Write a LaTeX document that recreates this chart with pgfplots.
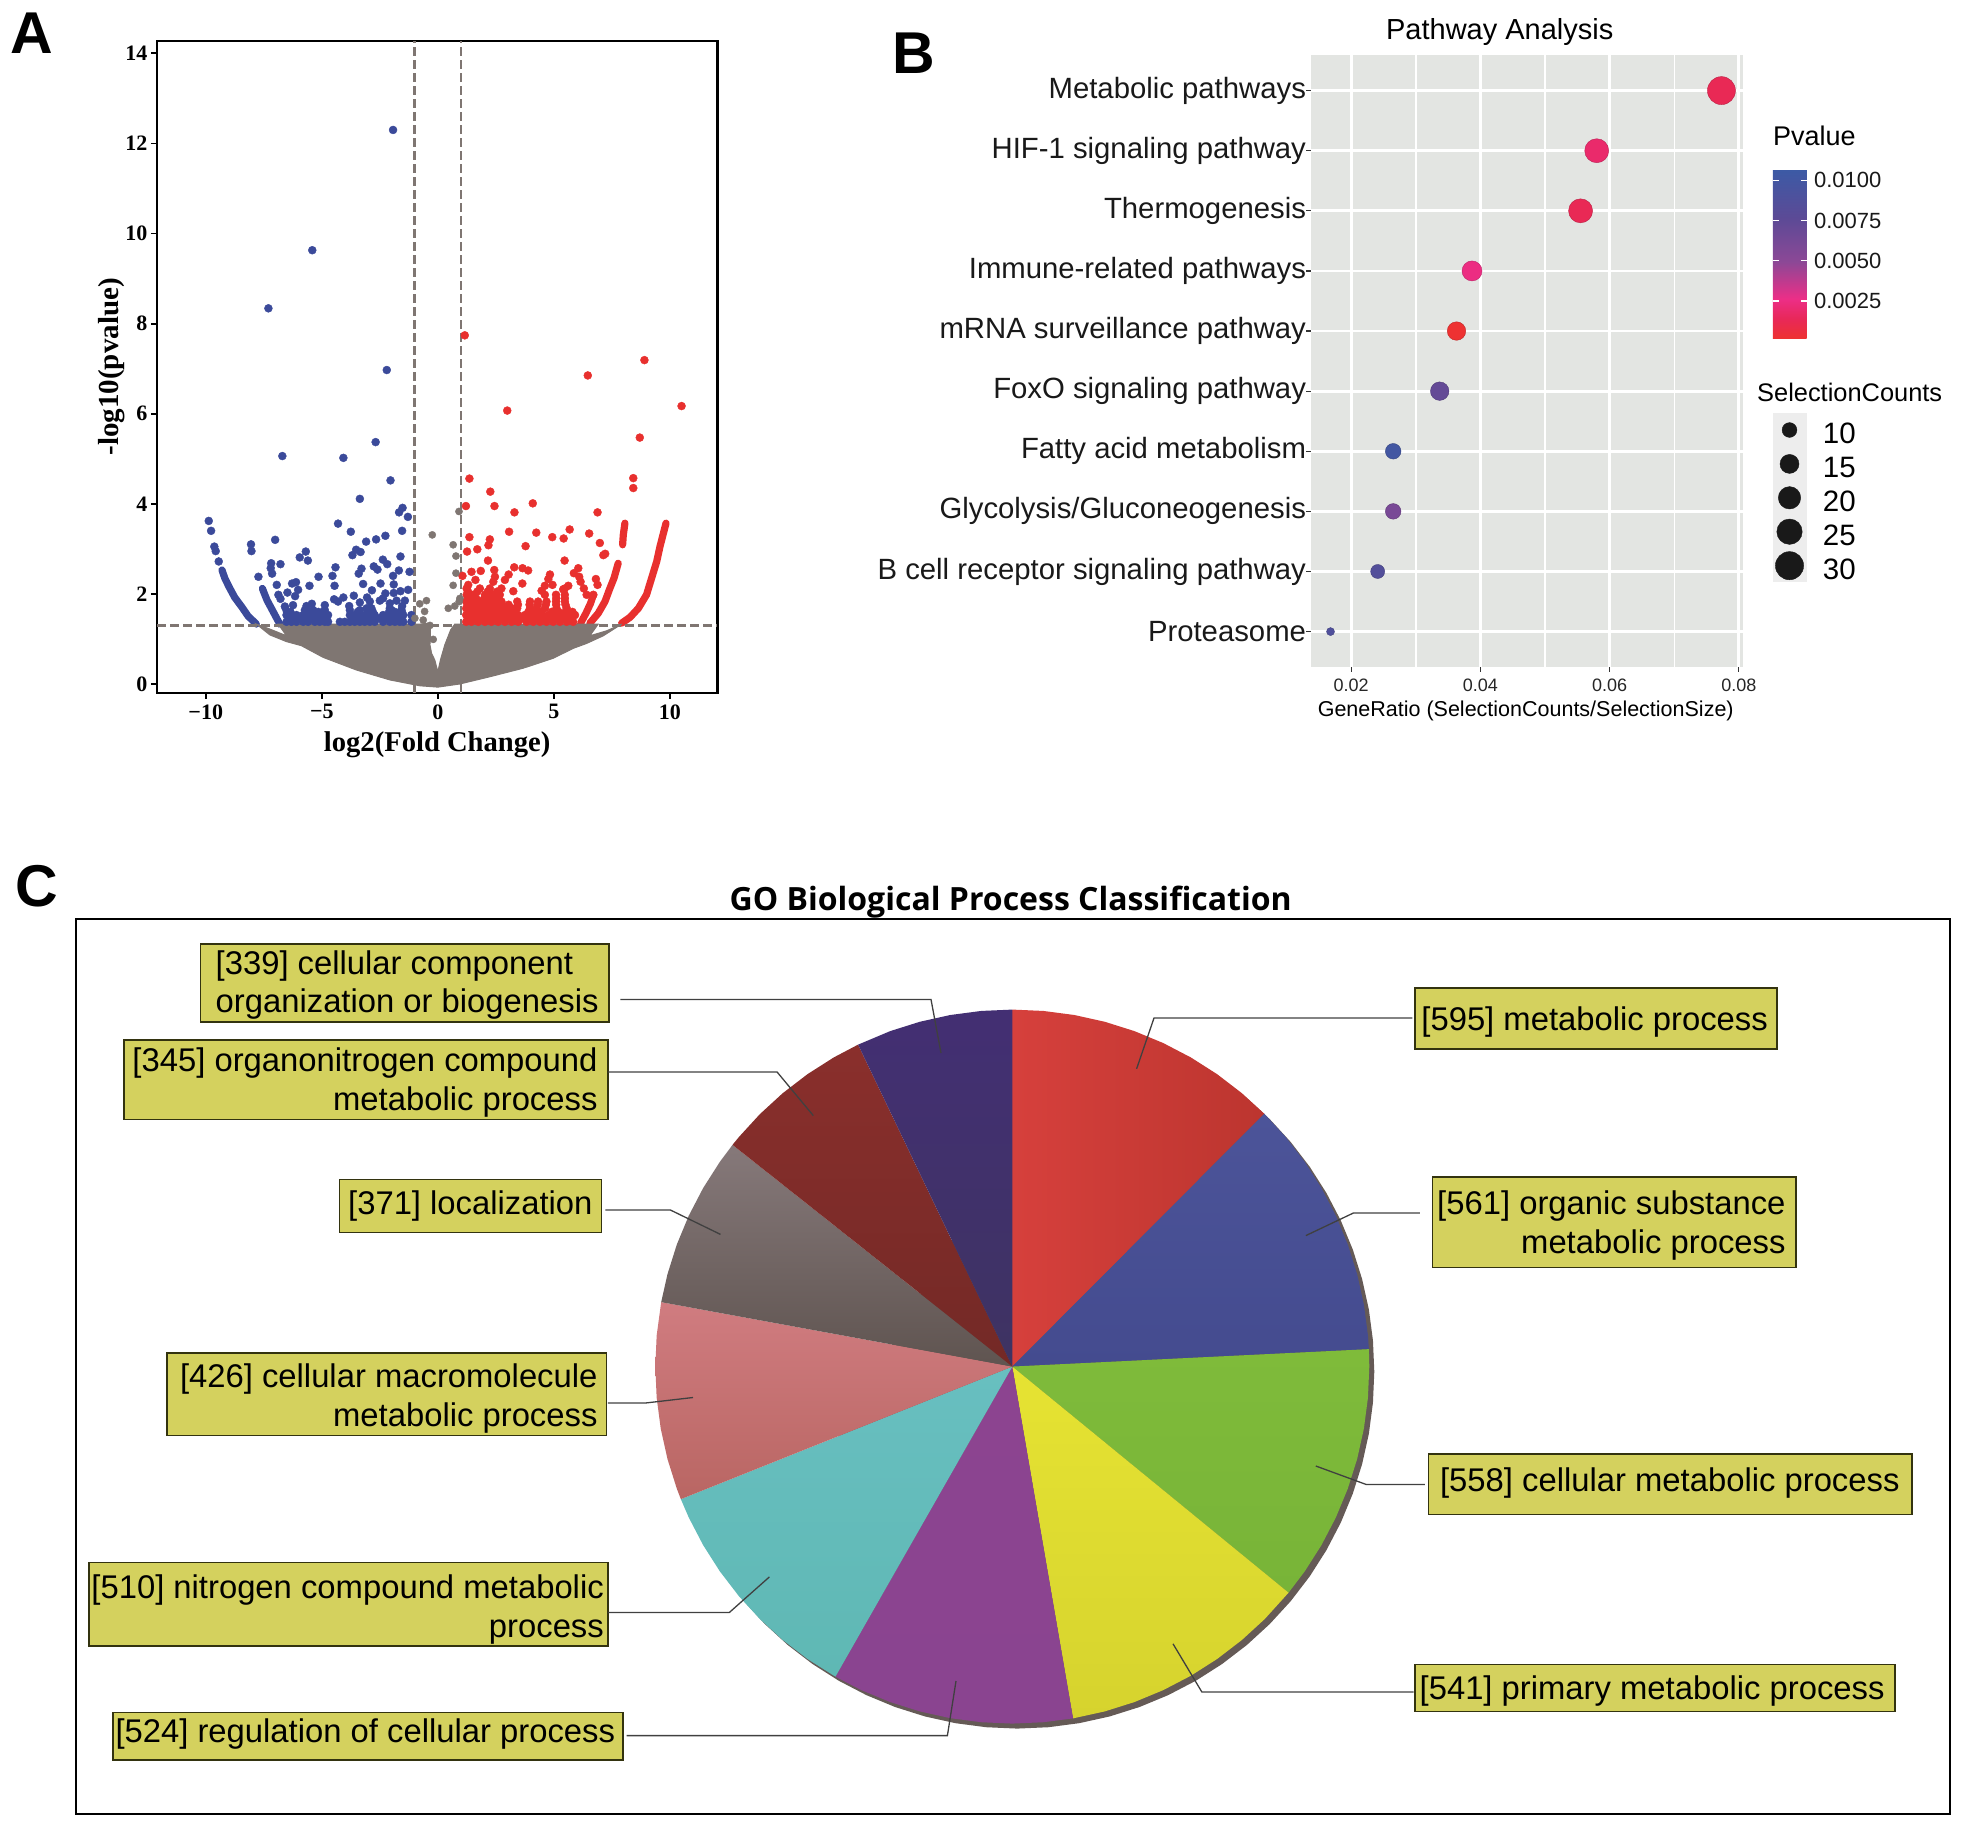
\documentclass[border=0pt]{standalone}
\usepackage{fontspec}
\usepackage{pgfplots}
\pgfplotsset{compat=1.18}
\setmainfont{Liberation Sans}
\newfontfamily\timesfont{Liberation Serif}
\newfontfamily\titlefont{Open Sans}
\newcommand{\fs}[1]{\fontsize{#1}{#1}\selectfont}

\definecolor{volblue}{HTML}{3B4A9A}
\definecolor{volred}{HTML}{E8302E}
\definecolor{volgray}{HTML}{7F7672}
\definecolor{panelbg}{HTML}{E3E5E2}
\definecolor{boxfill}{HTML}{D4D15E}
\definecolor{boxline}{HTML}{33330F}
\definecolor{pieshadow}{HTML}{655A56}
\definecolor{redA}{HTML}{D6403C}\definecolor{redM}{HTML}{C63832}\definecolor{redB}{HTML}{BC352F}
\definecolor{bluA}{HTML}{4C5499}\definecolor{bluB}{HTML}{444B8F}
\definecolor{greA}{HTML}{7FBB3A}\definecolor{greB}{HTML}{78B438}
\definecolor{yelA}{HTML}{E6E332}\definecolor{yelB}{HTML}{D6D32E}
\definecolor{purA}{HTML}{8C4490}\definecolor{purB}{HTML}{8A4490}
\definecolor{teaA}{HTML}{68BFC0}\definecolor{teaB}{HTML}{5FB8B4}
\definecolor{pinA}{HTML}{D07C80}\definecolor{pinB}{HTML}{B96663}
\definecolor{graA}{HTML}{86797A}\definecolor{graB}{HTML}{5F5450}
\definecolor{draA}{HTML}{8A2F2C}\definecolor{draB}{HTML}{732926}
\definecolor{navA}{HTML}{432F73}\definecolor{navB}{HTML}{3E3362}

\pgfplotsset{
	colormap={pval}{rgb255(0cm)=(238,50,48); rgb255(13cm)=(232,40,90); rgb255(25cm)=(236,46,135); rgb255(48cm)=(140,72,150); rgb255(75cm)=(92,74,150); rgb255(105cm)=(60,90,165)},
}

% one yellow label box of panel C, corners in picture pixels
\newcommand{\gobox}[4]{\addplot[fill=boxfill, draw=boxline, line width=1.6pt] coordinates {(#1,#2) (#3,#2) (#3,#4) (#1,#4)} -- cycle;}
\newcommand{\leader}[1]{\addplot[black!75, line width=1.3pt] coordinates {#1};}
\newcommand{\sizedot}[2]{\addplot[only marks, mark=*, mark size=#2pt, black!90, mark options={draw=none}] coordinates {(1789.5,#1)};}
\tikzset{golabel/.style={anchor=east, inner sep=0pt, text height=25pt, text depth=4.5pt, font=\fs{32.8}}}

\begin{document}
\begin{tikzpicture}
\path[use as bounding box] (0,0) rectangle (1965pt,1830pt);

% ---------- A: volcano ----------
\begin{axis}[
	at={(157pt,1137pt)}, anchor=south west,
	scale only axis, width=560.3pt, height=652.2pt,
	xmin=-12.1, xmax=12.04, ymin=-0.2, ymax=14.28,
	xtick={-10,-5,0,5,10}, xticklabels={−10,−5,0,5,10},
	ytick={0,2,4,6,8,10,12,14},
	yticklabels={0,2,4,6,8,10,12,14},
	xtick pos=bottom, ytick pos=left,
	tick align=outside, major tick length=6pt,
	axis line style={line width=2.4pt}, tick style={line width=1.8pt, black},
	ticklabel style={font=\timesfont\bfseries\fs{22}},
	xticklabel style={yshift=-2pt},
	xlabel={log2(Fold Change)}, ylabel={-log10(pvalue)},
	xlabel style={font=\timesfont\bfseries\fs{28.6}, yshift=-5pt},
	ylabel style={font=\timesfont\bfseries\fs{29}, yshift=-6pt},
	clip=false,
]
% blue points
\addplot[only marks, mark=*, mark size=4pt, volblue, mark options={draw=none}] coordinates {
(-1.93,12.30) (-5.41,9.63) (-7.30,8.34) (-2.20,6.97) (-2.68,5.37) (-6.70,5.06) (-4.07,5.02) (-2.04,4.52) (-3.36,4.11)
(-1.52,3.91) (-1.67,3.81) (-1.29,3.71) (-9.87,3.62) (-9.77,3.40) (-4.30,3.56) (-3.75,3.38) (-1.54,3.40) (-2.26,3.29)
(-2.66,3.21) (-3.09,3.16) (-7.01,3.20) (-8.05,3.10) (-8.03,2.95) (-9.63,3.05) (-9.57,2.95) (-9.44,2.72) (-5.69,2.94)
(-5.95,2.81) (-5.60,2.74) (-3.52,2.98) (-3.33,2.93) (-3.68,2.86) (-1.61,2.83) (-2.37,2.76) (-2.18,2.66) (-2.76,2.61)
(-2.60,2.54) (-3.29,2.56) (-3.41,2.45) (-4.41,2.59) (-4.54,2.40) (-7.18,2.68) (-7.20,2.57) (-7.14,2.45) (-6.78,2.66)
(-7.73,2.38) (-5.14,2.38) (-1.68,2.52) (-1.93,2.40) (-1.22,2.49) (-6.11,2.26) (-6.28,2.23) (-6.94,2.20) (-5.53,2.18)
(-4.45,2.18) (-3.22,2.22) (-2.47,2.23) (-1.90,2.21) (-2.84,2.08) (-1.28,2.09) (-1.61,2.06) (-1.90,2.02) (-2.26,2.01)
(-6.02,2.09) (-6.48,2.03) (-6.15,1.95) (-6.87,1.98) (-6.78,1.89) (-3.62,1.96) (-3.05,1.92) (-4.07,1.92) (-4.47,1.88)
(-2.36,1.90) (-2.50,1.85) (-1.42,1.85) (-1.78,1.85) (-3.36,1.81) (-2.93,1.83) (-4.30,1.83) (-2.07,1.79) (-1.54,1.73)
(-5.43,1.78) (-5.66,1.73) (-4.87,1.75) (-3.82,1.73) (-6.59,1.72) (-2.07,1.68) (-3.07,1.68) (-2.86,1.68) (-6.24,1.75)
(-5.73,1.64) (-5.37,1.64) (-4.87,1.64) (-3.79,1.64) (-3.36,1.64) (-2.93,1.64) (-2.00,1.64) (-1.57,1.64)
(-6.35,1.60) (-5.55,1.60) (-5.15,1.60) (-4.95,1.60) (-3.45,1.60) (-3.00,1.60) (-2.80,1.60) (-2.10,1.60) (-1.85,1.60) (-1.55,1.60)
(-6.52,1.53) (-6.31,1.53) (-6.09,1.53) (-5.80,1.53) (-5.59,1.53) (-5.30,1.53) (-5.09,1.53) (-4.87,1.53) (-4.73,1.53)
(-3.79,1.53) (-3.58,1.53) (-3.36,1.53) (-3.15,1.53) (-2.93,1.53) (-2.72,1.53) (-2.36,1.53) (-2.07,1.53) (-1.85,1.53) (-1.64,1.53) (-1.49,1.53) (-1.14,1.53)
(-6.40,1.46) (-6.20,1.46) (-5.95,1.46) (-5.70,1.46) (-5.45,1.46) (-5.20,1.46) (-4.98,1.46) (-4.80,1.46) (-3.70,1.46) (-3.47,1.46) (-3.25,1.46) (-3.04,1.46) (-2.82,1.46) (-2.50,1.46) (-2.20,1.46) (-1.95,1.46) (-1.75,1.46) (-1.57,1.46)
(-6.52,1.38) (-6.31,1.38) (-6.09,1.38) (-5.80,1.38) (-5.59,1.38) (-5.30,1.38) (-5.09,1.38) (-4.87,1.38) (-4.73,1.38)
(-4.22,1.38) (-4.01,1.38) (-3.79,1.38) (-3.58,1.38) (-3.36,1.38) (-3.15,1.38) (-2.93,1.38) (-2.72,1.38) (-2.36,1.38) (-2.07,1.38) (-1.85,1.38) (-1.64,1.38) (-1.49,1.38) (-1.14,1.38)
};
\addplot[volblue, line width=7.2pt, line cap=round, line join=round] coordinates {(-9.30,2.53) (-9.18,2.35) (-8.99,2.15) (-8.75,1.92) (-8.46,1.72) (-8.18,1.51) (-7.82,1.33)};
\addplot[volblue, line width=7.2pt, line cap=round, line join=round] coordinates {(-7.56,2.12) (-7.36,1.86) (-7.10,1.61) (-6.81,1.33)};
\addplot[volblue, line width=7.2pt, line cap=round, line join=round] coordinates {(-6.59,1.72) (-6.45,1.49) (-6.31,1.33)};
% red points
\addplot[only marks, mark=*, mark size=4pt, volred, mark options={draw=none}] coordinates {
(1.16,7.74) (8.90,7.19) (6.46,6.85) (2.99,6.07) (10.50,6.17) (8.70,5.47) (8.42,4.57) (8.42,4.35) (1.36,4.56) (2.26,4.27)
(4.09,4.01) (1.21,3.95) (2.44,3.95) (3.30,3.81) (6.88,3.81) (1.36,3.26) (3.07,3.38) (4.24,3.36) (4.93,3.26) (5.42,3.23)
(5.68,3.43) (6.52,3.34) (6.98,3.13) (2.24,3.21) (2.18,3.08) (3.78,3.06) (1.70,2.99) (1.26,2.94) (7.21,2.89) (7.13,2.86)
(5.46,2.74) (2.16,2.74) (1.45,2.49) (1.85,2.51) (2.43,2.53) (3.29,2.59) (3.65,2.57) (3.89,2.52) (6.05,2.57) (5.86,2.46)
(6.09,2.38) (6.15,2.27) (4.83,2.43) (4.76,2.33) (4.94,2.20) (1.06,2.40) (3.05,2.43) (2.89,2.31) (2.46,2.38) (2.39,2.27)
(3.64,2.23) (3.25,2.06) (1.62,2.31) (1.31,2.20) (4.61,2.18) (4.47,2.07) (5.62,2.18) (5.40,2.10) (6.29,2.12) (6.41,1.98) (6.70,1.98)
(6.81,2.33) (6.88,2.20)
(1.24,2.12) (1.81,2.12) (2.24,2.12) (2.74,2.12) (5.47,2.12)
(1.30,2.05) (1.70,2.05) (2.15,2.05) (2.55,2.05)
(1.24,1.98) (1.52,1.98) (2.03,1.98) (2.39,1.98) (2.67,1.98) (4.61,1.98) (5.09,1.98) (5.47,1.98)
(1.33,1.90) (1.65,1.90) (2.00,1.90) (2.30,1.90) (2.60,1.90) (5.10,1.90) (5.47,1.90)
(1.22,1.83) (1.45,1.83) (1.81,1.83) (2.17,1.83) (2.46,1.83) (2.74,1.83) (3.42,1.83) (3.97,1.83) (4.32,1.83) (4.68,1.83) (5.09,1.83) (5.47,1.83)
(1.33,1.76) (1.60,1.76) (1.90,1.76) (2.17,1.76) (2.45,1.76) (2.75,1.76) (3.05,1.76) (3.45,1.76) (3.95,1.76) (4.30,1.76) (4.65,1.76) (5.10,1.76) (5.50,1.76)
(1.22,1.68) (1.45,1.68) (1.74,1.68) (2.03,1.68) (2.31,1.68) (2.60,1.68) (2.89,1.68) (3.18,1.68) (3.42,1.68) (3.97,1.68) (4.25,1.68) (4.61,1.68) (5.11,1.68) (5.55,1.68)
(1.33,1.60) (1.60,1.60) (1.88,1.60) (2.17,1.60) (2.45,1.60) (2.75,1.60) (3.03,1.60) (3.30,1.60) (3.90,1.60) (4.12,1.60) (4.45,1.60) (4.90,1.60) (5.20,1.60) (5.50,1.60) (5.80,1.60)
(1.22,1.53) (1.45,1.53) (1.74,1.53) (2.03,1.53) (2.31,1.53) (2.60,1.53) (2.89,1.53) (3.18,1.53) (3.46,1.53) (3.75,1.53) (4.18,1.53) (4.47,1.53) (4.76,1.53) (5.04,1.53) (5.33,1.53) (5.62,1.53) (5.91,1.53)
(1.33,1.45) (1.60,1.45) (1.88,1.45) (2.17,1.45) (2.45,1.45) (2.75,1.45) (3.03,1.45) (3.32,1.45) (3.60,1.45) (3.95,1.45) (4.25,1.45) (4.55,1.45) (4.82,1.45) (5.12,1.45) (5.40,1.45) (5.70,1.45)
(1.22,1.38) (1.45,1.38) (1.74,1.38) (2.03,1.38) (2.31,1.38) (2.60,1.38) (2.89,1.38) (3.18,1.38) (3.46,1.38) (3.82,1.38) (4.11,1.38) (4.40,1.38) (4.68,1.38) (4.97,1.38) (5.26,1.38) (5.55,1.38) (5.83,1.38)
};
\addplot[volred, line width=7.2pt, line cap=round, line join=round] coordinates {(7.92,1.35) (8.28,1.48) (8.64,1.68) (8.99,1.98) (9.21,2.35) (9.43,2.72) (9.57,3.05) (9.68,3.27) (9.83,3.57)};
\addplot[volred, line width=7.2pt, line cap=round, line join=round] coordinates {(6.55,1.35) (6.91,1.57) (7.20,1.83) (7.41,2.12) (7.59,2.35) (7.77,2.68)};
\addplot[volred, line width=7.2pt, line cap=round, line join=round] coordinates {(7.96,3.09) (7.99,3.31) (8.06,3.57)};
\addplot[volred, line width=7.2pt, line cap=round, line join=round] coordinates {(6.15,1.35) (6.38,1.57) (6.58,1.79) (6.70,1.98)};
% grey mass under the cut-off
\addplot[fill=volgray, draw=volgray, line width=1pt] coordinates {
(-7.82,1.33) (-7.24,1.22) (-6.52,1.07) (-6.88,1.33) (-0.78,1.33) (-0.32,1.35) (-0.32,1.09) (-0.34,0.87) (-0.27,0.68) (-0.13,0.53)
(0,0.27) (0.11,0.53) (0.30,0.87) (0.55,1.20) (0.73,1.33) (6.91,1.33) (6.55,1.07) (7.27,1.18) (7.92,1.33)
(7.13,1.07) (6.41,0.90) (5.83,0.79) (4.97,0.57) (3.68,0.35) (2.24,0.16) (0.95,0) (0,-0.07)
(-0.78,-0.04) (-2.07,0.09) (-3.51,0.31) (-4.94,0.59) (-5.88,0.85) (-6.52,0.94) (-7.24,1.09)
} -- cycle;
\addplot[only marks, mark=*, mark size=3.6pt, volgray, mark options={draw=none}] coordinates {
(-0.24,3.31) (-0.78,1.78) (-0.49,1.85) (-0.57,1.61) (-0.99,1.46) (-0.63,1.42) (0.91,3.83) (0.66,3.09) (0.78,2.84) (0.78,2.46)
(0.66,2.19) (0.45,1.68) (0.73,1.73) (0.92,1.83) (0.95,1.90) (-0.20,0.99) (-0.34,1.30)
};
% cut-offs
\addplot[volgray, line width=2.6pt, dash pattern=on 9pt off 4pt] coordinates {(-12.1,1.3) (12.04,1.3)};
\addplot[volgray, line width=2.6pt, dash pattern=on 9pt off 4pt] coordinates {(-1,-0.2) (-1,14.28)};
\addplot[volgray, line width=2.6pt, dash pattern=on 9pt off 4pt] coordinates {(1,-0.2) (1,14.28)};
\end{axis}

% ---------- B: pathway dot plot ----------
\begin{axis}[
	at={(1311pt,1163pt)}, anchor=south west,
	scale only axis, width=431.5pt, height=612.2pt,
	xmin=0.01378, xmax=0.08056, ymin=-0.596, ymax=9.589, y dir=reverse,
	axis background/.style={fill=panelbg},
	axis line style={draw=none},
	xtick={0.02,0.04,0.06,0.08}, minor xtick={0.03,0.05,0.07},
	scaled x ticks=false,
	ytick={0,...,9},
	yticklabels={Metabolic pathways, HIF-1 signaling pathway, Thermogenesis, Immune-related pathways, mRNA surveillance pathway, FoxO signaling pathway, Fatty acid metabolism, Glycolysis/Gluconeogenesis~, B cell receptor signaling pathway, Proteasome},
	xtick pos=bottom, ytick pos=left,
	tick align=outside, major tick length=5pt, minor tick length=0pt,
	tick style={line width=1.2pt, black!80},
	grid=major, xminorgrids=true,
	major grid style={white, line width=2.8pt},
	minor grid style={white, line width=1.4pt},
	yticklabel style={font=\fs{29.3}, black!90, xshift=3.5pt},
	xticklabel style={font=\fs{18}, black!85, yshift=-3pt, /pgf/number format/fixed, /pgf/number format/fixed zerofill, /pgf/number format/precision=2, /pgf/number format/assume math mode=true},
	xlabel={GeneRatio (SelectionCounts/SelectionSize)},
	xlabel style={font=\fs{21.5}, xshift=-1pt, yshift=-3pt},
	title={Pathway Analysis}, title style={font=\fs{29}, xshift=-27pt, yshift=0pt},
	colormap name=pval,
	point meta min=0.00014, point meta max=0.01064,
	colorbar,
	colorbar/width=33.7pt,
	colorbar style={
		at={(parent axis.north east)}, anchor=north west, xshift=21.8pt, yshift=-115.2pt,
		height=169pt,
		axis line style={draw=none},
		ytick={0.0025,0.005,0.0075,0.01},
		scaled y ticks=false,
		ytick pos=both, yticklabel pos=right,
		tick align=inside, major tick length=6pt,
		tick style={white, line width=1.2pt},
		yticklabel style={font=\fs{22}, black!90, /pgf/number format/fixed, /pgf/number format/fixed zerofill, /pgf/number format/precision=4, /pgf/number format/assume math mode=true},
		tick label style={xshift=4pt},
	},
	clip=false,
]
\addplot[scatter, only marks, mark=*, scatter src=explicit,
	visualization depends on={\thisrow{d}/2 \as \perpointsize},
	scatter/@pre marker code/.append style={/tikz/mark size=\perpointsize},
] table[x=r, y=n, meta=p] {
r n p d
0.0773 0 0.0013 28
0.0580 1 0.0019 24
0.0555 2 0.0013 24
0.0387 3 0.0025 20
0.0363 4 0.0002 18.5
0.0337 5 0.0072 18.5
0.0265 6 0.0100 15.6
0.0265 7 0.0060 15.6
0.0241 8 0.0085 14
0.0168 9 0.0088 8
};
\end{axis}

% ---------- C: pie, angles from the gene counts ----------
\begin{axis}[
	at={(660.3pt,101.4pt)}, anchor=south west,
	scale only axis, width=714pt, height=714pt,
	xmin=-357, xmax=357, ymin=-357, ymax=357, hide axis, clip=false, data cs=polar,
]
\addplot[fill=pieshadow, draw=none] coordinates {(80,357) (75,357) (70,357) (65,357) (60,357) (55,357) (50,357) (45,357) (40,357) (35,357) (30,357) (25,357) (20,357) (15,357) (10,357) (5,357) (0,357) (-5,357) (-10,357) (-15,357) (-20,357) (-25,357) (-30,357) (-35,357) (-40,357) (-45,357) (-50,357) (-55,357) (-60,357) (-65,357) (-70,357) (-75,357) (-80,357) (-85,357) (-90,357) (-95,357) (-100,357) (-105,357) (-110,357) (-115,357) (-120,357) (-125,357) (-130,357) (-135,357) (-140,357)} -- cycle;
\end{axis}
\begin{axis}[
	at={(655.3pt,106.4pt)}, anchor=south west,
	scale only axis, width=714pt, height=714pt,
	xmin=-357, xmax=357, ymin=-357, ymax=357, hide axis, clip=false, data cs=polar,
]
\addplot[left color=redA, middle color=redM, right color=redB, draw=none] coordinates {(0,0) (90,357) (85,357) (80,357) (75,357) (70,357) (65,357) (60,357) (55,357) (50,357) (45.1,357)} -- cycle;
\addplot[top color=bluA, bottom color=bluB, draw=none] coordinates {(0,0) (45.1,357) (40,357) (35,357) (30,357) (25,357) (20,357) (15,357) (10,357) (5,357) (2.8,357)} -- cycle;
\addplot[top color=greA, bottom color=greB, draw=none] coordinates {(0,0) (2.8,357) (0,357) (-5,357) (-10,357) (-15,357) (-20,357) (-25,357) (-30,357) (-35,357) (-39.3,357)} -- cycle;
\addplot[top color=yelA, bottom color=yelB, draw=none] coordinates {(0,0) (-39.3,357) (-45,357) (-50,357) (-55,357) (-60,357) (-65,357) (-70,357) (-75,357) (-80.2,357)} -- cycle;
\addplot[top color=purA, bottom color=purB, draw=none] coordinates {(0,0) (-80.2,357) (-85,357) (-90,357) (-95,357) (-100,357) (-105,357) (-110,357) (-115,357) (-119.7,357)} -- cycle;
\addplot[top color=teaA, bottom color=teaB, draw=none] coordinates {(0,0) (-119.7,357) (-125,357) (-130,357) (-135,357) (-140,357) (-145,357) (-150,357) (-155,357) (-158.2,357)} -- cycle;
\addplot[top color=pinA, bottom color=pinB, draw=none] coordinates {(0,0) (-158.2,357) (-160,357) (-165,357) (-170,357) (-175,357) (-180,357) (-185,357) (-190.4,357)} -- cycle;
\addplot[top color=graA, bottom color=graB, draw=none] coordinates {(0,0) (-190.4,357) (-195,357) (-200,357) (-205,357) (-210,357) (-215,357) (-218.4,357)} -- cycle;
\addplot[top color=draA, bottom color=draB, draw=none] coordinates {(0,0) (-218.4,357) (-220,357) (-225,357) (-230,357) (-235,357) (-240,357) (-244.4,357)} -- cycle;
\addplot[top color=navA, bottom color=navB, draw=none] coordinates {(0,0) (-244.4,357) (-250,357) (-255,357) (-260,357) (-265,357) (-270,357)} -- cycle;
\end{axis}

% ---------- labels, frame and legend of size, in picture pixels ----------
\begin{axis}[
	at={(0,0)}, anchor=south west,
	scale only axis, width=1965pt, height=1830pt,
	xmin=0, xmax=1965, ymin=0, ymax=1830, y dir=reverse,
	hide axis, clip=false,
]
\addplot[black, line width=2pt] coordinates {(76.4,919.4) (1950,919.4) (1950,1814) (76.4,1814)} -- cycle;
\gobox{200.5}{943.8}{609}{1021.9}
\gobox{124}{1040}{607.8}{1119.4}
\gobox{339.6}{1179.4}{601.5}{1232.5}
\gobox{166.7}{1353}{606.5}{1435.6}
\gobox{89}{1562.5}{607.8}{1646}
\gobox{112.8}{1712.5}{622.8}{1760}
\gobox{1414.8}{988}{1777}{1048.8}
\gobox{1432.3}{1176.9}{1795.7}{1267.5}
\gobox{1428.6}{1453.8}{1912}{1514.4}
\gobox{1414.8}{1664.4}{1894.7}{1711.3}
\leader{(620.3,999.4) (931,999.4) (941,1053)}
\leader{(607.8,1071.9) (777,1071.9) (813.3,1115.6)}
\leader{(605.3,1210) (670.4,1210) (720.5,1234.4)}
\leader{(607.8,1403) (645.4,1403) (693,1397.5)}
\leader{(607.8,1612.5) (729.3,1612.5) (769.4,1576.9)}
\leader{(626.6,1735.6) (947.4,1735.6) (956,1681)}
\leader{(1412.3,1018) (1154,1018) (1136.6,1068.8)}
\leader{(1419.8,1213) (1353.4,1213) (1305.8,1235.6)}
\leader{(1424.8,1484.4) (1366,1484.4) (1315.8,1466)}
\leader{(1413.5,1691.9) (1201.8,1691.9) (1173,1643.8)}
\node[golabel, anchor=west] at (215.5,963.8) {[339] cellular component};
\node[golabel, anchor=west] at (215.5,1002.5) {organization or biogenesis};
\node[golabel] at (597.7,1061) {[345] organonitrogen compound};
\node[golabel] at (597.7,1100) {metabolic process};
\node[golabel] at (592.7,1203.8) {[371] localization};
\node[golabel] at (597.7,1376.9) {[426] cellular macromolecule};
\node[golabel] at (597.7,1416) {metabolic process};
\node[golabel] at (604,1588) {[510] nitrogen compound metabolic};
\node[golabel] at (604,1627.5) {process};
\node[golabel] at (615.3,1732.5) {[524] regulation of cellular process};
\node[golabel] at (1768,1020) {[595] metabolic process};
\node[golabel] at (1785.7,1203.8) {[561] organic substance};
\node[golabel] at (1785.7,1243) {metabolic process};
\node[golabel] at (1899.7,1481) {[558] cellular metabolic process};
\node[golabel] at (1884.7,1688.8) {[541] primary metabolic process};
\node[font=\titlefont\bfseries\fs{32}] at (1010.7,902.5) {GO Biological Process Classification};
\node[font=\bfseries\fs{59}, inner sep=0pt, anchor=base west] at (10,54) {A};
\node[font=\bfseries\fs{59}, inner sep=0pt, anchor=base west] at (892,74) {B};
\node[font=\bfseries\fs{59}, inner sep=0pt, anchor=base west] at (15,906) {C};
% size legend
\addplot[fill=black!7, draw=none] coordinates {(1773.3,413) (1807,413) (1807,581.7) (1773.3,581.7)} -- cycle;
\sizedot{430}{7.4}
\sizedot{463.9}{9.5}
\sizedot{497.8}{11.2}
\sizedot{531.7}{12.7}
\sizedot{565.7}{14.1}
\node[font=\fs{27}, anchor=west, inner sep=0pt] at (1773,135.7) {Pvalue};
\node[font=\fs{25.4}, anchor=west, inner sep=0pt] at (1757,392.6) {SelectionCounts};
\node[font=\fs{29.5}, anchor=west, inner sep=0pt] at (1822.7,433.8) {10};
\node[font=\fs{29.5}, anchor=west, inner sep=0pt] at (1822.7,467.8) {15};
\node[font=\fs{29.5}, anchor=west, inner sep=0pt] at (1822.7,501.7) {20};
\node[font=\fs{29.5}, anchor=west, inner sep=0pt] at (1822.7,535.6) {25};
\node[font=\fs{29.5}, anchor=west, inner sep=0pt] at (1822.7,569.6) {30};
\end{axis}
\end{tikzpicture}
\end{document}
